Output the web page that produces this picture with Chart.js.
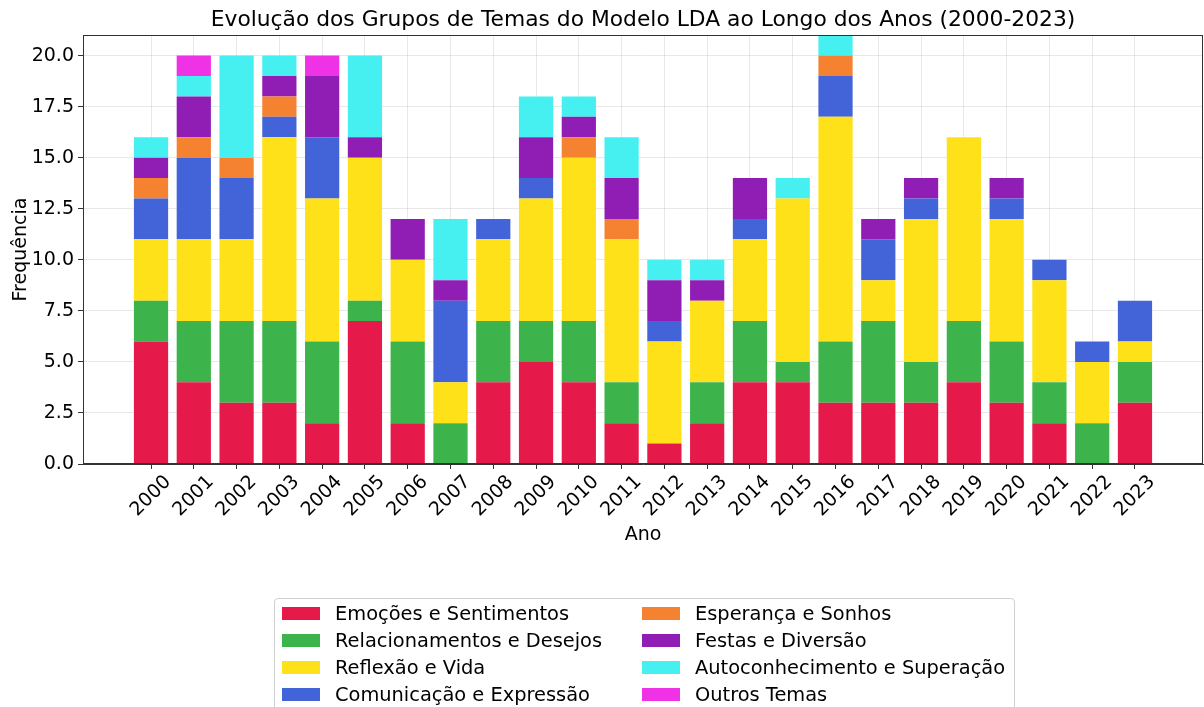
<!DOCTYPE html>
<html>
<head>
<meta charset="utf-8">
<script src="https://cdn.jsdelivr.net/npm/chart.js@4.4.1/dist/chart.umd.min.js"></script>
<style>
  html, body { margin: 0; padding: 0; background: #fff; }
  #wrap { position: relative; width: 1204px; height: 707px; overflow: hidden; font-family: "DejaVu Sans", sans-serif; }
  #c { position: absolute; left: 0; top: 0; }
  #legend { position: absolute; left: 274px; top: 598px; width: 741px; height: 130px; box-sizing: border-box;
            border: 1px solid #d0d0d0; border-radius: 4px; background: rgba(255,255,255,0.85); }
  .item { position: absolute; height: 20px; display: flex; align-items: center; white-space: nowrap;
          font-size: 19.4px; color: #000; }
  .sw { width: 38px; height: 13px; margin-right: 15px; flex: none; }
</style>
</head>
<body>
<div id="wrap">
  <canvas id="c" width="1204" height="707"></canvas>
  <div id="legend"></div>
</div>
<script>
const years = ["2000","2001","2002","2003","2004","2005","2006","2007","2008","2009","2010","2011",
               "2012","2013","2014","2015","2016","2017","2018","2019","2020","2021","2022","2023"];

const seriesNames = ["Emoções e Sentimentos","Relacionamentos e Desejos","Reflexão e Vida",
  "Comunicação e Expressão","Esperança e Sonhos","Festas e Diversão",
  "Autoconhecimento e Superação","Outros Temas"];

const emocoes          = [6,4,3,3,2,7,2,0,4,5,4,2,1,2,4,4,3,3,3,4,3,2,0,3];
const relacionamentos  = [2,3,4,4,4,1,4,2,3,2,3,2,0,2,3,1,3,4,2,3,3,2,2,2];
const reflexao         = [3,4,4,9,7,7,4,2,4,6,8,7,5,4,4,8,11,2,7,9,6,5,3,1];
const comunicacao      = [2,4,3,1,3,0,0,4,1,1,0,0,1,0,1,0,2,2,1,0,1,1,1,2];
const esperanca        = [1,1,1,1,0,0,0,0,0,0,1,1,0,0,0,0,1,0,0,0,0,0,0,0];
const festas           = [1,2,0,1,3,1,2,1,0,2,1,2,2,1,2,0,0,1,1,0,1,0,0,0];
const autoconhecimento = [1,1,5,1,0,4,0,3,0,2,1,2,1,1,0,1,1,0,0,0,0,0,0,0];
const outros           = [0,1,0,0,1,0,0,0,0,0,0,0,0,0,0,0,0,0,0,0,0,0,0,0];

const yTicks = [0, 2.5, 5, 7.5, 10, 12.5, 15, 17.5, 20];

const colors = ["#e6194b","#3cb44b","#ffe119","#4363d8","#f58231","#911eb4","#46f0f0","#f032e6"];
const seriesValues = [emocoes, relacionamentos, reflexao, comunicacao, esperanca, festas, autoconhecimento, outros];

Chart.defaults.font.family = "'DejaVu Sans', sans-serif";
Chart.defaults.color = "#000";

const datasets = seriesValues.map((vals, k) => ({
  label: seriesNames[k],
  data: vals.map((v, i) => ({ x: i, y: v })),
  backgroundColor: colors[k],
  borderWidth: 0,
  categoryPercentage: 1.0,
  barPercentage: 0.8
}));

const framePlugin = {
  id: 'frame',
  afterDraw(chart) {
    const a = chart.chartArea, ctx = chart.ctx;
    ctx.save();
    ctx.strokeStyle = '#333';
    ctx.lineWidth = 1;
    ctx.strokeRect(Math.round(a.left) + 0.5, Math.round(a.top) + 0.5,
                   Math.round(a.right - a.left) - 1, Math.round(a.bottom - a.top) - 1);
    ctx.restore();
  }
};

const gridColor = 'rgba(0,0,0,0.09)';

new Chart(document.getElementById('c'), {
  type: 'bar',
  data: { datasets },
  plugins: [framePlugin],
  options: {
    responsive: false,
    animation: false,
    layout: { padding: { left: 0, right: 1, top: 0, bottom: 159 } },
    plugins: {
      legend: { display: false },
      tooltip: { enabled: false },
      title: {
        display: true,
        fullSize: false,
        text: 'Evolução dos Grupos de Temas do Modelo LDA ao Longo dos Anos (2000-2023)',
        font: { size: 21.8, weight: 'normal' },
        color: '#000',
        padding: { top: 7, bottom: 2 }
      }
    },
    scales: {
      x: {
        type: 'linear',
        stacked: true,
        min: -1.59,
        max: 24.59,
        offset: false,
        z: 1,
        afterBuildTicks(scale) { scale.ticks = years.map((y, i) => ({ value: i })); },
        afterFit(scale) { scale.height = 84; },
        ticks: {
          autoSkip: false,
          minRotation: 45,
          maxRotation: 45,
          labelOffset: 17,
          padding: 2,
          font: { size: 19 },
          color: '#000',
          callback: (v) => years[v] !== undefined ? years[v] : ''
        },
        grid: { offset: false, color: gridColor, tickColor: '#333', tickLength: 5, drawTicks: true },
        border: { display: true, color: '#333' },
        title: { display: true, text: 'Ano', font: { size: 19 }, color: '#000', padding: { top: 0, bottom: 2 } }
      },
      y: {
        stacked: true,
        min: 0,
        max: 21,
        z: 1,
        afterBuildTicks(scale) { scale.ticks = yTicks.map(v => ({ value: v })); },
        afterFit(scale) { scale.width = 83; },
        ticks: {
          padding: 4,
          font: { size: 19 },
          color: '#000',
          callback: (v) => Number(v).toFixed(1)
        },
        grid: { offset: false, color: gridColor, tickColor: '#333', tickLength: 5, drawTicks: true },
        border: { display: true, color: '#333' },
        title: { display: true, text: 'Frequência', font: { size: 19 }, color: '#000', padding: { top: 10, bottom: 0 } }
      }
    }
  }
});

// Legend (matplotlib-style, two columns, column-major)
const legend = document.getElementById('legend');
const colX = [7, 367];
const rowTop = [4, 31, 58, 85];
seriesNames.forEach((name, k) => {
  const col = Math.floor(k / 4), row = k % 4;
  const it = document.createElement('div');
  it.className = 'item';
  it.style.left = colX[col] + 'px';
  it.style.top = rowTop[row] + 'px';
  const sw = document.createElement('span');
  sw.className = 'sw';
  sw.style.background = colors[k];
  const tx = document.createElement('span');
  tx.textContent = name;
  it.appendChild(sw); it.appendChild(tx);
  legend.appendChild(it);
});
</script>
</body>
</html>
